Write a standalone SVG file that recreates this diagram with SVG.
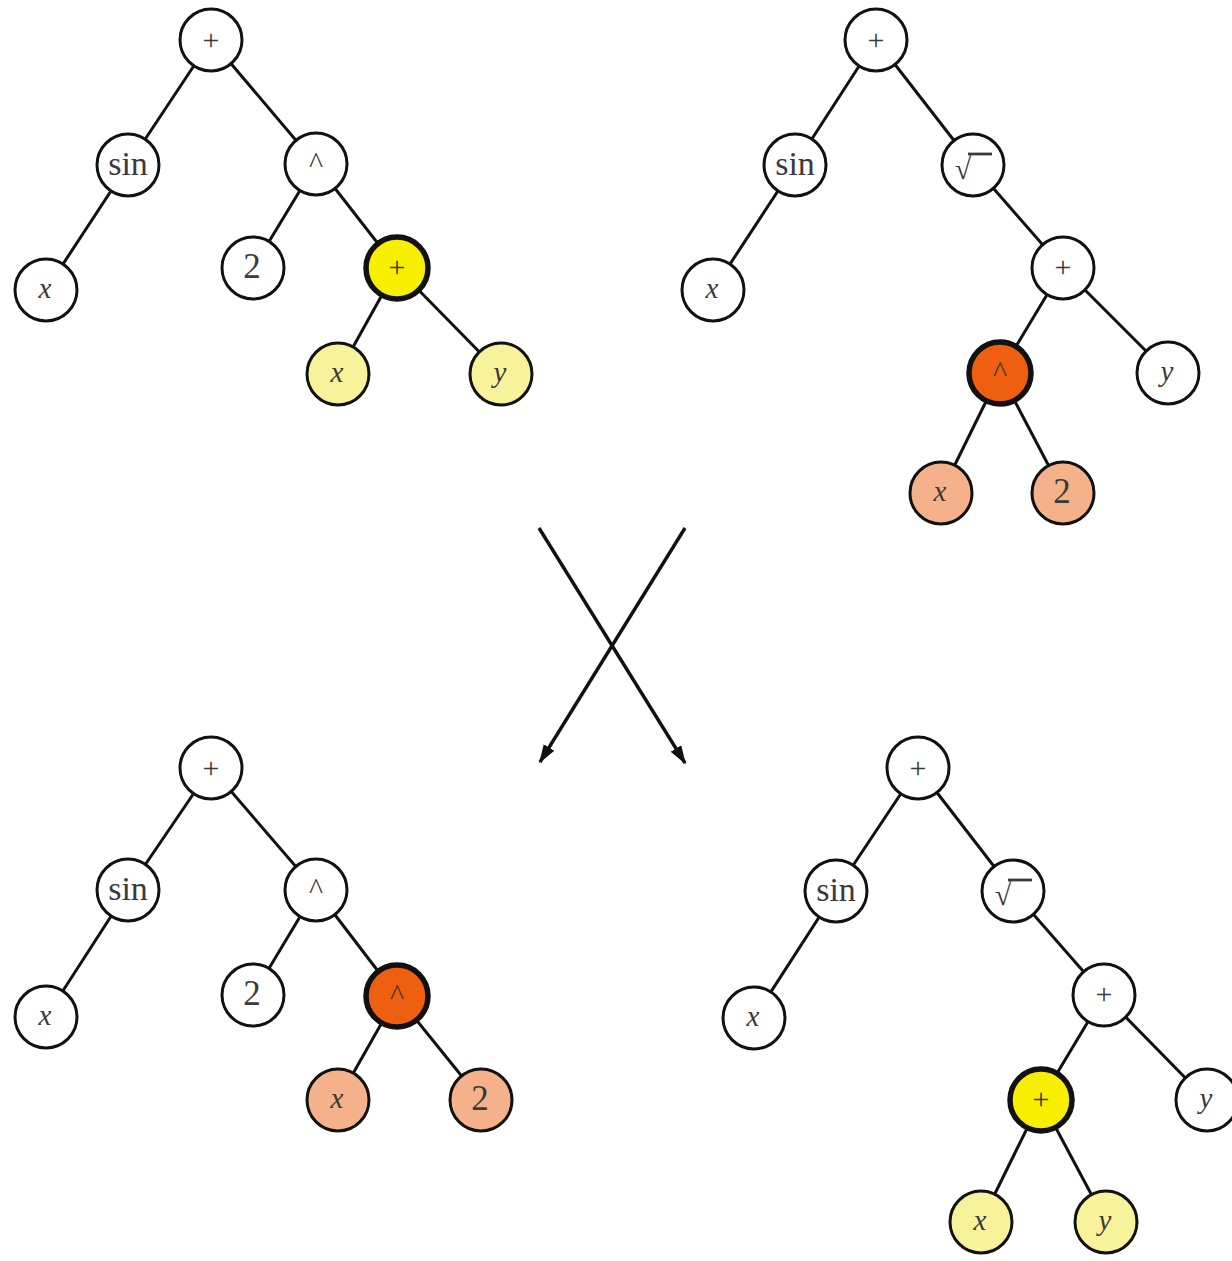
<svg xmlns="http://www.w3.org/2000/svg" width="1232" height="1261" viewBox="0 0 1232 1261">
  <style>
    .edge { stroke: #111; stroke-width: 3; fill: none; }
    .node circle { fill: #fff; stroke: #111; stroke-width: 3; }
    .node.hl-yellow circle { fill: #f7ee00; stroke-width: 5.5; }
    .node.lt-yellow circle { fill: #f8f29a; }
    .node.hl-orange circle { fill: #ee6010; stroke-width: 5.5; }
    .node.lt-orange circle { fill: #f5b28a; }
    .node text { font-family: "Liberation Serif", "Times New Roman", serif; font-size: 30px; fill: #3a3a3a; text-anchor: middle; dominant-baseline: central; }
    .node text.var { font-style: italic; font-size: 29px; }
    .node text.num { font-size: 35px; }
    .node text.fn { font-size: 34px; }
    .node .bar { stroke: #3a3a3a; stroke-width: 2.8; }
    .arrow { stroke: #111; stroke-width: 3.4; fill: none; }
  </style>
  <defs>
    <marker id="head" viewBox="0 0 12 12" refX="11" refY="6" markerWidth="5.5" markerHeight="5.5" orient="auto" markerUnits="strokeWidth">
      <path d="M0,2 L12,6 L0,10 Z" fill="#111"/>
    </marker>
  </defs>
  <rect width="1232" height="1261" fill="#fff"/>

  <!-- tree edges and the crossover arrows -->
  <g id="connectors">
    <!-- parent 1 -->
    <line class="edge" x1="211" y1="40" x2="128" y2="165"/>
    <line class="edge" x1="211" y1="40" x2="316" y2="164"/>
    <line class="edge" x1="128" y1="165" x2="46" y2="290"/>
    <line class="edge" x1="316" y1="164" x2="253" y2="268"/>
    <line class="edge" x1="316" y1="164" x2="397" y2="268"/>
    <line class="edge" x1="397" y1="268" x2="338" y2="374"/>
    <line class="edge" x1="397" y1="268" x2="501" y2="374"/>
    <!-- parent 2 -->
    <line class="edge" x1="876" y1="40" x2="795" y2="165"/>
    <line class="edge" x1="876" y1="40" x2="973" y2="165"/>
    <line class="edge" x1="795" y1="165" x2="713" y2="290"/>
    <line class="edge" x1="973" y1="165" x2="1063" y2="268"/>
    <line class="edge" x1="1063" y1="268" x2="1000" y2="373"/>
    <line class="edge" x1="1063" y1="268" x2="1168" y2="373"/>
    <line class="edge" x1="1000" y1="373" x2="941" y2="493"/>
    <line class="edge" x1="1000" y1="373" x2="1063" y2="493"/>
    <!-- child 1 -->
    <line class="edge" x1="211" y1="768" x2="128" y2="890"/>
    <line class="edge" x1="211" y1="768" x2="316" y2="890"/>
    <line class="edge" x1="128" y1="890" x2="46" y2="1017"/>
    <line class="edge" x1="316" y1="890" x2="253" y2="995"/>
    <line class="edge" x1="316" y1="890" x2="397" y2="996"/>
    <line class="edge" x1="397" y1="996" x2="338" y2="1100"/>
    <line class="edge" x1="397" y1="996" x2="481" y2="1100"/>
    <!-- child 2 -->
    <line class="edge" x1="918" y1="768" x2="836" y2="891"/>
    <line class="edge" x1="918" y1="768" x2="1013" y2="891"/>
    <line class="edge" x1="836" y1="891" x2="754" y2="1018"/>
    <line class="edge" x1="1013" y1="891" x2="1104" y2="995"/>
    <line class="edge" x1="1104" y1="995" x2="1041" y2="1100"/>
    <line class="edge" x1="1104" y1="995" x2="1207" y2="1100"/>
    <line class="edge" x1="1041" y1="1100" x2="981" y2="1222"/>
    <line class="edge" x1="1041" y1="1100" x2="1106" y2="1222"/>
    <!-- crossover arrows -->
    <line class="arrow" x1="539" y1="528" x2="685" y2="763" marker-end="url(#head)"/>
    <line class="arrow" x1="685" y1="528" x2="540" y2="762" marker-end="url(#head)"/>
  </g>

  <!-- parent 1 nodes -->
  <g id="p1-plus" class="node"><circle cx="211" cy="40" r="31"/><text x="211" y="39">+</text></g>
  <g id="p1-sin" class="node"><circle cx="128" cy="165" r="31"/><text class="fn" x="128" y="163">sin</text></g>
  <g id="p1-pow" class="node"><circle cx="316" cy="164" r="31"/><text x="316" y="162">^</text></g>
  <g id="p1-x" class="node"><circle cx="46" cy="290" r="31"/><text class="var" x="45" y="288">x</text></g>
  <g id="p1-2" class="node"><circle cx="253" cy="268" r="31"/><text class="num" x="252" y="266">2</text></g>
  <g id="p1-sub" class="node hl-yellow"><circle cx="397" cy="268" r="31"/><text x="397" y="266">+</text></g>
  <g id="p1-sub-x" class="node lt-yellow"><circle cx="338" cy="374" r="31"/><text class="var" x="337" y="372">x</text></g>
  <g id="p1-sub-y" class="node lt-yellow"><circle cx="501" cy="374" r="31"/><text class="var" x="500" y="372">y</text></g>

  <!-- parent 2 nodes -->
  <g id="p2-plus" class="node"><circle cx="876" cy="40" r="31"/><text x="876" y="39">+</text></g>
  <g id="p2-sin" class="node"><circle cx="795" cy="165" r="31"/><text class="fn" x="795" y="163">sin</text></g>
  <g id="p2-sqrt" class="node"><circle cx="973" cy="165" r="31"/><text x="963" y="168">√</text><line class="bar" x1="968" y1="154" x2="992" y2="154"/></g>
  <g id="p2-x" class="node"><circle cx="713" cy="290" r="31"/><text class="var" x="712" y="288">x</text></g>
  <g id="p2-plus2" class="node"><circle cx="1063" cy="268" r="31"/><text x="1063" y="266">+</text></g>
  <g id="p2-sub" class="node hl-orange"><circle cx="1000" cy="373" r="31"/><text x="1000" y="371">^</text></g>
  <g id="p2-y" class="node"><circle cx="1168" cy="373" r="31"/><text class="var" x="1167" y="371">y</text></g>
  <g id="p2-sub-x" class="node lt-orange"><circle cx="941" cy="493" r="31"/><text class="var" x="940" y="491">x</text></g>
  <g id="p2-sub-2" class="node lt-orange"><circle cx="1063" cy="493" r="31"/><text class="num" x="1062" y="491">2</text></g>

  <!-- child 1 nodes -->
  <g id="c1-plus" class="node"><circle cx="211" cy="768" r="31"/><text x="211" y="767">+</text></g>
  <g id="c1-sin" class="node"><circle cx="128" cy="890" r="31"/><text class="fn" x="128" y="888">sin</text></g>
  <g id="c1-pow" class="node"><circle cx="316" cy="890" r="31"/><text x="316" y="888">^</text></g>
  <g id="c1-x" class="node"><circle cx="46" cy="1017" r="31"/><text class="var" x="45" y="1015">x</text></g>
  <g id="c1-2" class="node"><circle cx="253" cy="995" r="31"/><text class="num" x="252" y="993">2</text></g>
  <g id="c1-sub" class="node hl-orange"><circle cx="397" cy="996" r="31"/><text x="397" y="994">^</text></g>
  <g id="c1-sub-x" class="node lt-orange"><circle cx="338" cy="1100" r="31"/><text class="var" x="337" y="1098">x</text></g>
  <g id="c1-sub-2" class="node lt-orange"><circle cx="481" cy="1100" r="31"/><text class="num" x="480" y="1098">2</text></g>

  <!-- child 2 nodes -->
  <g id="c2-plus" class="node"><circle cx="918" cy="768" r="31"/><text x="918" y="767">+</text></g>
  <g id="c2-sin" class="node"><circle cx="836" cy="891" r="31"/><text class="fn" x="836" y="889">sin</text></g>
  <g id="c2-sqrt" class="node"><circle cx="1013" cy="891" r="31"/><text x="1003" y="894">√</text><line class="bar" x1="1008" y1="880" x2="1032" y2="880"/></g>
  <g id="c2-x" class="node"><circle cx="754" cy="1018" r="31"/><text class="var" x="753" y="1016">x</text></g>
  <g id="c2-plus2" class="node"><circle cx="1104" cy="995" r="31"/><text x="1104" y="993">+</text></g>
  <g id="c2-sub" class="node hl-yellow"><circle cx="1041" cy="1100" r="31"/><text x="1041" y="1098">+</text></g>
  <g id="c2-y" class="node"><circle cx="1207" cy="1100" r="31"/><text class="var" x="1206" y="1098">y</text></g>
  <g id="c2-sub-x" class="node lt-yellow"><circle cx="981" cy="1222" r="31"/><text class="var" x="980" y="1220">x</text></g>
  <g id="c2-sub-y" class="node lt-yellow"><circle cx="1106" cy="1222" r="31"/><text class="var" x="1105" y="1220">y</text></g>
</svg>
